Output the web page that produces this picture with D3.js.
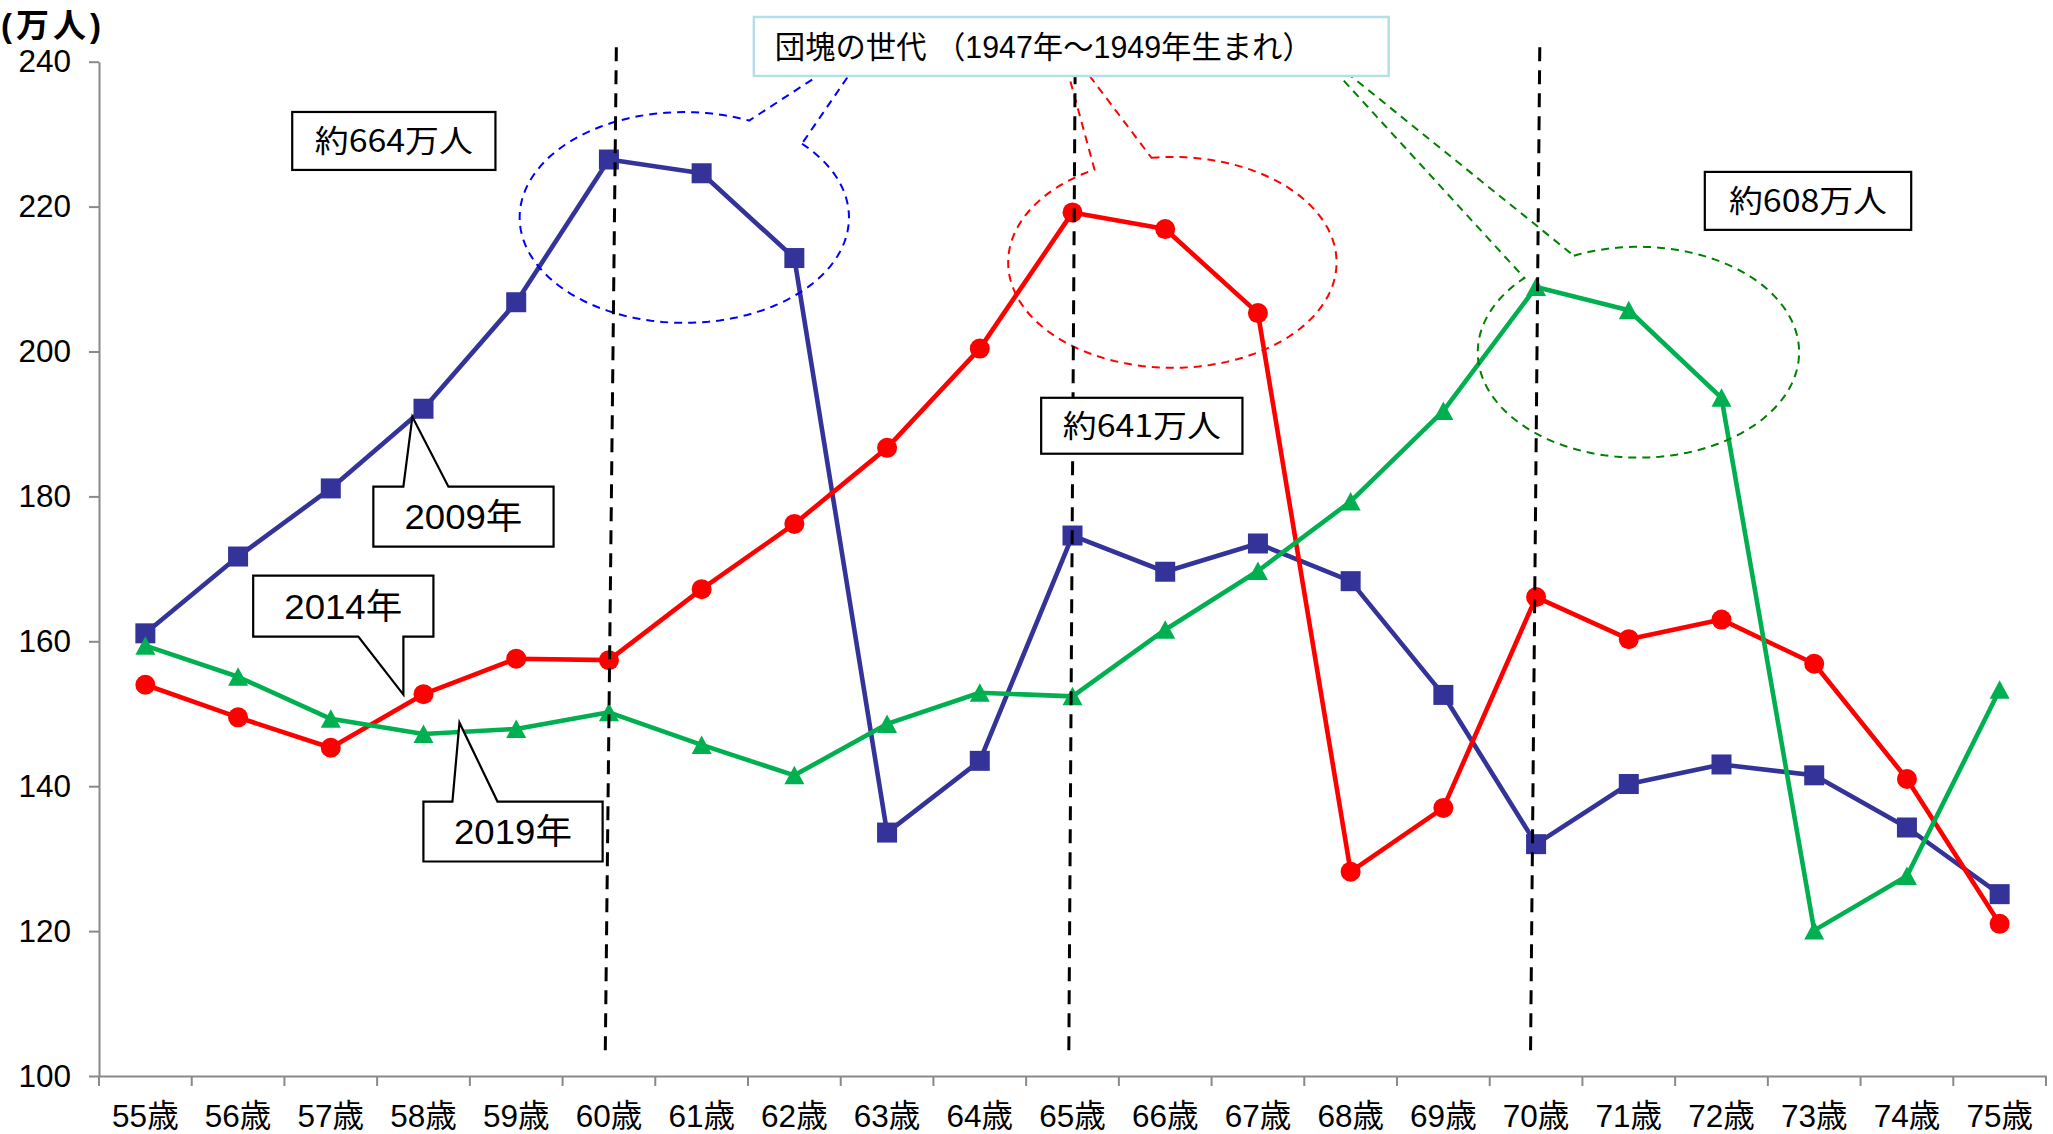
<!DOCTYPE html>
<html>
<head>
<meta charset="utf-8">
<script src="https://cdn.jsdelivr.net/npm/d3@7"></script>
<style>
  body { margin: 0; background: #fff; }
  svg { display: block; }
  text { font-family: "Liberation Sans", Arial, "Noto Sans CJK JP", sans-serif; fill: #000; }
</style>
</head>
<body>
<div class="graph"></div>
<script>
// ages on the x axis
var ages = ["55歳","56歳","57歳","58歳","59歳","60歳","61歳","62歳","63歳","64歳","65歳",
            "66歳","67歳","68歳","69歳","70歳","71歳","72歳","73歳","74歳","75歳"];

// population by age (万人)
var y2009 = [161.1,171.7,181.1,192.1,206.8,226.5,224.6,212.9,133.6,143.5,174.6,
             169.6,173.5,168.3,152.6,132.0,140.3,143.0,141.5,134.3,125.1];
var y2014 = [154.0,149.5,145.3,152.7,157.6,157.4,167.2,176.2,186.7,200.4,219.2,
             216.9,205.3,128.2,137.0,166.1,160.3,163.0,156.9,141.0,121.0];
var y2019 = [159.4,155.1,149.3,147.2,147.9,150.2,145.7,141.5,148.6,152.9,152.4,
             161.6,169.7,179.3,191.8,208.9,205.7,193.6,120.1,127.6,153.3];

var yTicks = [100,120,140,160,180,200,220,240];
var unitLabel = "(万人)";

// dashed age markers (index of age, slightly slanted like the original)
var vlineTop = [5.08, 10.03, 15.04];
var vlineBottom = [4.96, 9.96, 14.94];
var vlineRange = [242.0, 102.6];

// dashed balloons round each baby boom peak: centre (index, value), radii, gap angles, tip
var balloons = [
  {cx: 5.813, cy: 218.5, rx: 1.776, ry: 14.55, a0: -66.8, a1: -44.4, tip: [7.848, 243.0], color: "#0000ff"},
  {cx: 11.077, cy: 212.3, rx: 1.771, ry: 14.55, a0: -118.3, a1: -97.3, tip: [9.835, 243.96], color: "#ff0000"},
  {cx: 16.104, cy: 199.9, rx: 1.733, ry: 14.55, a0: -135.2, a1: -113.7, tip: [12.534, 242.86], color: "#008000"}
];

var titleText = "団塊の世代 （1947年～1949年生まれ）";
var titleBox = [6.563, 13.41, 246.17, 238.03];

var totalLabels = ["約664万人", "約641万人", "約608万人"];
var totalBoxes = [
  [1.584, 3.776, 233.06, 225.06],
  [9.662, 11.833, 193.61, 185.89],
  [16.82, 19.046, 224.79, 216.79]
];

var yearLabels = ["2009年", "2014年", "2019年"];
var yearBoxes = [
  [2.459, 4.403, 181.34, 173.06],
  [1.163, 3.107, 169.06, 160.65],
  [2.999, 4.932, 137.88, 129.61]
];
var yearSide = ["top", "bottom", "top"];
var yearBase = [[2.783, 3.269], [2.297, 2.783], [3.312, 3.798]];
var yearTip = [[2.880, 190.99], [2.783, 152.64], [3.388, 148.77]];


var width = 2053, height = 1134;
var margin = {top: 61.7, right: 7, bottom: 58, left: 99};

var svg = d3.select("div.graph").append("svg")
    .attr("width", width)
    .attr("height", height);

var x = d3.scaleBand().domain(ages).range([margin.left, width - margin.right]);
var xi = d3.scaleLinear().domain([0, ages.length - 1])
    .range([x(ages[0]) + x.bandwidth() / 2, x(ages[ages.length - 1]) + x.bandwidth() / 2]);
var y = d3.scaleLinear().domain([100, 240]).range([height - margin.bottom, margin.top]);

var axisColor = "#898989";

// x axis: labels in the middle of each band, ticks on the band edges
var xAxis = svg.append("g")
    .attr("transform", "translate(0," + y(100) + ")")
    .call(d3.axisBottom(x).tickSize(0).tickPadding(29).tickSizeOuter(0));
xAxis.select(".domain").attr("stroke", axisColor).attr("stroke-width", 2);
xAxis.selectAll("text").style("font-size", "31.5px");

xAxis.selectAll(".edge")
  .data(d3.range(ages.length + 1))
  .enter().append("line")
    .attr("x1", function(k) { return x.range()[0] + k * x.step(); })
    .attr("x2", function(k) { return x.range()[0] + k * x.step(); })
    .attr("y1", 0).attr("y2", 10)
    .attr("stroke", axisColor).attr("stroke-width", 2);

// y axis
var yAxis = svg.append("g")
    .attr("transform", "translate(" + margin.left + ",0)")
    .call(d3.axisLeft(y).tickValues(yTicks).tickSize(10).tickPadding(18).tickSizeOuter(0));
yAxis.select(".domain").attr("stroke", axisColor).attr("stroke-width", 2);
yAxis.selectAll(".tick line").attr("stroke", axisColor).attr("stroke-width", 2);
yAxis.selectAll("text").style("font-size", "31.5px");

// unit label, top left
svg.append("text")
    .attr("x", 1).attr("y", 25)
    .attr("dy", "0.36em")
    .style("font-weight", "bold")
    .style("font-size", "33px")
    .style("letter-spacing", "4px")
    .text(unitLabel);

// series
var series = [
  {values: y2009, color: "#333399", shape: "square"},
  {values: y2014, color: "#ff0000", shape: "circle"},
  {values: y2019, color: "#00b050", shape: "triangle"}
];

var line = d3.line()
    .x(function(d, i) { return x(ages[i]) + x.bandwidth() / 2; })
    .y(function(d) { return y(d); });

series.forEach(function(s) {
  var g = svg.append("g");
  g.append("path")
    .attr("d", line(s.values))
    .attr("fill", "none")
    .attr("stroke", s.color)
    .attr("stroke-width", 4.6)
    .attr("stroke-linejoin", "round");

  var pts = g.selectAll(".pt")
    .data(s.values)
    .enter();

  if (s.shape === "square") {
    pts.append("rect")
      .attr("x", function(d, i) { return x(ages[i]) + x.bandwidth() / 2 - 10; })
      .attr("y", function(d) { return y(d) - 10; })
      .attr("width", 20).attr("height", 20)
      .attr("fill", s.color);
  } else if (s.shape === "circle") {
    pts.append("circle")
      .attr("cx", function(d, i) { return x(ages[i]) + x.bandwidth() / 2; })
      .attr("cy", function(d) { return y(d); })
      .attr("r", 10)
      .attr("fill", s.color);
  } else {
    pts.append("path")
      .attr("d", function(d, i) {
        var cx = x(ages[i]) + x.bandwidth() / 2, cy = y(d);
        return "M" + cx + "," + (cy - 9.5) + "L" + (cx + 10) + "," + (cy + 9) + "L" + (cx - 10) + "," + (cy + 9) + "Z";
      })
      .attr("fill", s.color);
  }
});

// balloons (ellipse with a wedge pointing to the title)
balloons.forEach(function(b) {
  var cx = xi(b.cx), cy = y(b.cy);
  var rx = xi(b.cx + b.rx) - cx, ry = y(b.cy - b.ry) - cy;
  var pts = [];
  for (var a = b.a1; a <= b.a0 + 360; a += 2) {
    var t = a * Math.PI / 180;
    pts.push([cx + rx * Math.cos(t), cy + ry * Math.sin(t)]);
  }
  var tEnd = (b.a0 + 360) * Math.PI / 180;
  pts.push([cx + rx * Math.cos(tEnd), cy + ry * Math.sin(tEnd)]);
  pts.push([xi(b.tip[0]), y(b.tip[1])]);
  svg.append("path")
    .attr("d", d3.line()(pts) + "Z")
    .attr("fill", "none")
    .attr("stroke", b.color)
    .attr("stroke-width", 2)
    .attr("stroke-dasharray", "8,6");
});

// vertical dashed lines at 60, 65, 70
svg.selectAll(".vline")
  .data(vlineTop)
  .enter().append("line")
    .attr("x1", function(d) { return xi(d); })
    .attr("y1", y(vlineRange[0]))
    .attr("x2", function(d, i) { return xi(vlineBottom[i]); })
    .attr("y2", y(vlineRange[1]))
    .attr("stroke", "#000")
    .attr("stroke-width", 3)
    .attr("stroke-dasharray", "14,9");

// total boxes
totalLabels.forEach(function(t, k) {
  var b = totalBoxes[k];
  svg.append("rect")
    .attr("x", xi(b[0])).attr("y", y(b[2]))
    .attr("width", xi(b[1]) - xi(b[0])).attr("height", y(b[3]) - y(b[2]))
    .attr("fill", "#fff").attr("stroke", "#000").attr("stroke-width", 2.2);
  svg.append("text")
    .attr("x", (xi(b[0]) + xi(b[1])) / 2)
    .attr("y", (y(b[2]) + y(b[3])) / 2)
    .attr("dy", "0.36em")
    .attr("text-anchor", "middle")
    .attr("textLength", 158)
    .attr("lengthAdjust", "spacingAndGlyphs")
    .style("font-family", "'Noto Sans CJK JP', sans-serif")
    .style("font-size", "31px")
    .text(t);
});

// year callouts
yearLabels.forEach(function(t, k) {
  var b = yearBoxes[k], base = yearBase[k], tip = yearTip[k];
  var x0 = xi(b[0]), x1 = xi(b[1]), yt = y(b[2]), yb = y(b[3]);
  var pts;
  if (yearSide[k] === "top") {
    pts = [[x0, yt], [xi(base[0]), yt], [xi(tip[0]), y(tip[1])], [xi(base[1]), yt],
           [x1, yt], [x1, yb], [x0, yb]];
  } else {
    pts = [[x0, yt], [x1, yt], [x1, yb], [xi(base[1]), yb], [xi(tip[0]), y(tip[1])],
           [xi(base[0]), yb], [x0, yb]];
  }
  svg.append("path")
    .attr("d", d3.line()(pts) + "Z")
    .attr("fill", "#fff").attr("stroke", "#000").attr("stroke-width", 2.2)
    .attr("stroke-linejoin", "miter");
  svg.append("text")
    .attr("x", (x0 + x1) / 2)
    .attr("y", (yt + yb) / 2)
    .attr("dy", "0.36em")
    .attr("text-anchor", "middle")
    .attr("textLength", 118)
    .attr("lengthAdjust", "spacingAndGlyphs")
    .style("font-size", "35px")
    .text(t);
});

// title box on top of everything
svg.append("rect")
  .attr("x", xi(titleBox[0])).attr("y", y(titleBox[2]))
  .attr("width", xi(titleBox[1]) - xi(titleBox[0])).attr("height", y(titleBox[3]) - y(titleBox[2]))
  .attr("fill", "#fff").attr("stroke", "#b7dde8").attr("stroke-width", 2.5);
svg.append("text")
  .attr("x", xi(titleBox[0]) + 21)
  .attr("y", (y(titleBox[2]) + y(titleBox[3])) / 2)
  .attr("dy", "0.36em")
  .attr("textLength", 538)
  .attr("lengthAdjust", "spacingAndGlyphs")
  .style("font-size", "31px")
  .text(titleText);
</script>
</body>
</html>
